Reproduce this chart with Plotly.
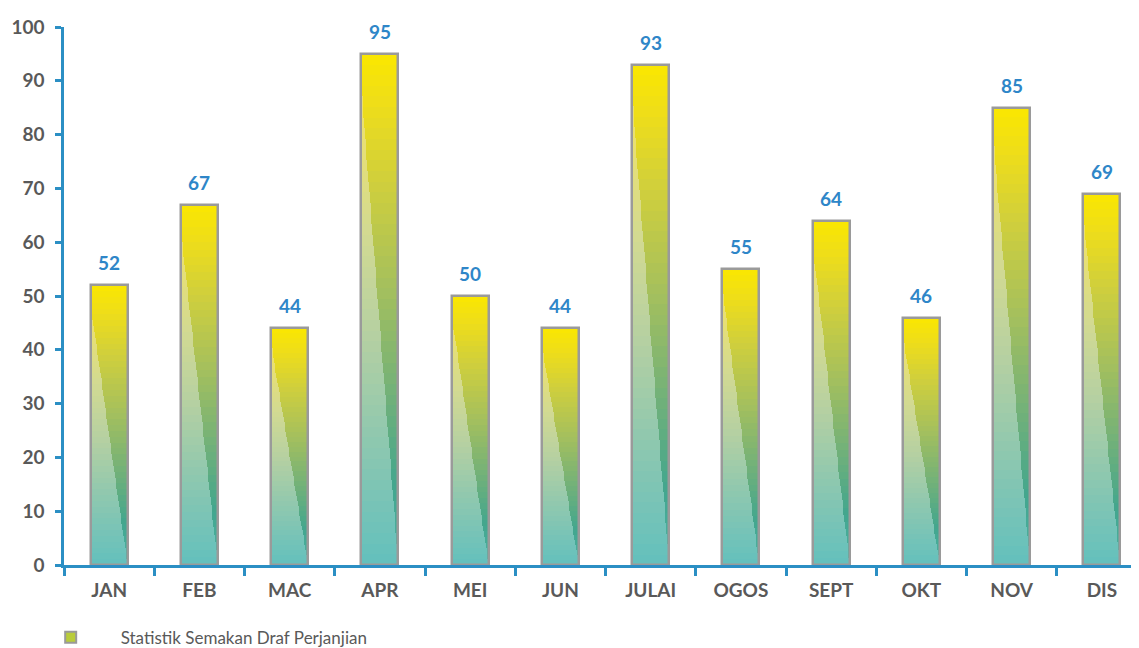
import plotly.graph_objects as go
import numpy as np

# ---- data ----
months = ["JAN", "FEB", "MAC", "APR", "MEI", "JUN", "JULAI", "OGOS", "SEPT", "OKT", "NOV", "DIS"]
values = [52, 67, 44, 95, 50, 44, 93, 55, 64, 46, 85, 69]
series_name = "Statistik Semakan Draf Perjanjian"
y_ticks = [0, 10, 20, 30, 40, 50, 60, 70, 80, 90, 100]

# ---- styling ----
AXIS_BLUE = "#2B8FC4"
LABEL_BLUE = "#2E86C8"
TEXT_GRAY = "#595959"
OUTLINE = "#9A9A9A"
BAR_W = 0.41
N_SEG = 48

dark_stops = [(0.0, "#4DB3A6"), (0.15, "#42A68E"), (0.35, "#76B277"), (0.55, "#A6C05C"),
              (0.75, "#D0CF3C"), (0.9, "#EEDD1A"), (1.0, "#FAE700")]
light_stops = [(0.0, "#63C0BD"), (0.2, "#86C6B2"), (0.45, "#B5D0A2"), (0.65, "#D2DA92"),
               (0.85, "#EAE070"), (1.0, "#F5E650")]


def hex2rgb(h):
    h = h.lstrip("#")
    return np.array([int(h[i:i + 2], 16) for i in (0, 2, 4)], dtype=float)


def interp(stops, f):
    for (f0, c0), (f1, c1) in zip(stops[:-1], stops[1:]):
        if f0 <= f <= f1:
            t = (f - f0) / (f1 - f0) if f1 > f0 else 0
            c = hex2rgb(c0) * (1 - t) + hex2rgb(c1) * t
            return "rgb(%d,%d,%d)" % tuple(np.round(c).astype(int))
    c = hex2rgb(stops[-1][1])
    return "rgb(%d,%d,%d)" % tuple(c.astype(int))


vals = np.array(values, dtype=float)
fig = go.Figure()

# gradient segments (each bar split into N_SEG pieces of its own height)
for k in range(N_SEG):
    f_mid = (k + 0.5) / N_SEG
    seg_h = vals / N_SEG * 1.03
    base = vals * k / N_SEG
    fig.add_trace(go.Bar(
        x=months, y=seg_h, base=base, width=BAR_W,
        marker=dict(color=interp(dark_stops, f_mid), line=dict(width=0)),
        showlegend=False, hoverinfo="skip"))
    lw = max(0.0, (0.93 - f_mid) / 0.93)
    if lw > 0:
        fig.add_trace(go.Bar(
            x=months, y=seg_h, base=base, width=BAR_W * lw, offset=-BAR_W / 2,
            marker=dict(color=interp(light_stops, f_mid), line=dict(width=0)),
            showlegend=False, hoverinfo="skip"))

# outline bars
fig.add_trace(go.Bar(
    x=months, y=values, width=BAR_W,
    marker=dict(color="rgba(0,0,0,0)", line=dict(color=OUTLINE, width=2.5)),
    showlegend=False, hoverinfo="skip"))

# legend entry
fig.add_trace(go.Scatter(
    x=[None], y=[None], mode="markers", name=series_name,
    marker=dict(symbol="square", size=11, color="#B9CC3A", line=dict(color=OUTLINE, width=2))))

for m, v in zip(months, values):
    fig.add_annotation(x=m, y=v, text=str(v), showarrow=False, yanchor="bottom", yshift=9,
                       font=dict(family="Lato", size=19, color=LABEL_BLUE, weight="bold"))

fig.update_layout(
    width=1139, height=648,
    margin=dict(l=56, r=0, t=19, b=88),
    paper_bgcolor="white", plot_bgcolor="white",
    barmode="overlay", bargap=0,
    font=dict(family="Lato", color=TEXT_GRAY),
    showlegend=True,
    legend=dict(orientation="h", x=-0.04, xanchor="left", y=-0.135, yanchor="middle",
                itemwidth=90, font=dict(family="Lato", size=17, color=TEXT_GRAY)),
)
fig.update_xaxes(
    showline=True, linecolor=AXIS_BLUE, linewidth=2.5, automargin=False,
    ticks="outside", tickson="boundaries", ticklen=8, tickwidth=2.5, tickcolor=AXIS_BLUE,
    ticklabelstandoff=6,
    tickfont=dict(family="Lato", size=19, color=TEXT_GRAY, weight="bold"),
    showgrid=False, zeroline=False, fixedrange=True)
fig.update_yaxes(
    range=[0, 100], tickvals=y_ticks, automargin=False,
    showline=True, linecolor=AXIS_BLUE, linewidth=2.5,
    ticks="outside", ticklen=6, tickwidth=2.5, tickcolor=AXIS_BLUE,
    ticklabelstandoff=7,
    tickfont=dict(family="Lato", size=19, color=TEXT_GRAY, weight="bold"),
    showgrid=False, zeroline=False, fixedrange=True)

fig.write_html("out.html")
